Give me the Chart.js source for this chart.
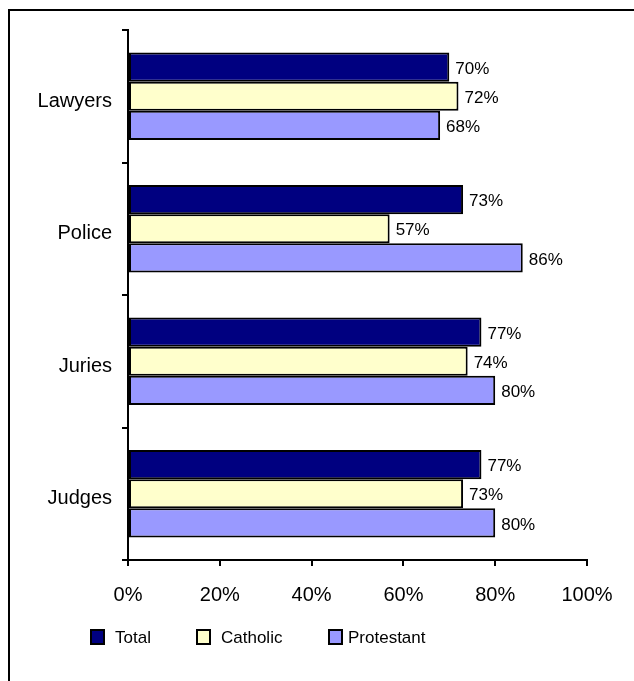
<!DOCTYPE html>
<html>
<head>
<meta charset="utf-8">
<script src="https://cdn.jsdelivr.net/npm/chart.js@4"></script>
<style>
  body { margin: 0; background: #fff; }
  #wrap { width: 634px; height: 681px; }
</style>
</head>
<body>
<div id="wrap"><canvas id="myChart" width="634" height="681"></canvas></div>
<script>
// categories and series
const categories = ['Lawyers', 'Police', 'Juries', 'Judges'];
const seriesNames = ['Total', 'Catholic', 'Protestant'];
const totalVals = [70, 73, 77, 77];
const catholicVals = [72, 57, 74, 73];
const protestantVals = [68, 86, 80, 80];
const xTicks = [0, 20, 40, 60, 80, 100];
const colors = ['#000080', '#FFFFCC', '#9999FF'];

const FONT = "'Liberation Sans', Arial, sans-serif";

// outer frame (cut off at right and bottom like the original)
const framePlugin = {
    id: 'frame',
    beforeDraw(chart) {
        const ctx = chart.ctx;
        ctx.save();
        ctx.fillStyle = '#fff';
        ctx.fillRect(0, 0, chart.width, chart.height);
        ctx.strokeStyle = '#000';
        ctx.lineWidth = 2;
        ctx.beginPath();
        ctx.moveTo(9, chart.height);
        ctx.lineTo(9, 10);
        ctx.lineTo(chart.width, 10);
        ctx.stroke();
        ctx.restore();
    }
};

// value labels at the end of every bar
const labelPlugin = {
    id: 'barLabels',
    afterDatasetsDraw(chart) {
        const ctx = chart.ctx;
        ctx.save();
        ctx.font = '17px ' + FONT;
        ctx.fillStyle = '#000';
        ctx.textAlign = 'left';
        ctx.textBaseline = 'middle';
        chart.data.datasets.forEach((ds, i) => {
            chart.getDatasetMeta(i).data.forEach((bar, j) => {
                ctx.fillText(ds.data[j] + '%', bar.x + 6, bar.y + 2);
            });
        });
        ctx.restore();
    }
};

// legend drawn by hand to get the spacing of the original
const legendPlugin = {
    id: 'legendRow',
    afterDraw(chart) {
        const ctx = chart.ctx;
        const boxX = [91, 197, 329];
        const textX = [115, 221, 348];
        ctx.save();
        ctx.font = '17px ' + FONT;
        ctx.textBaseline = 'middle';
        ctx.textAlign = 'left';
        chart.data.datasets.forEach((ds, i) => {
            ctx.fillStyle = ds.backgroundColor;
            ctx.fillRect(boxX[i], 630, 13, 14);
            ctx.strokeStyle = '#000';
            ctx.lineWidth = 2;
            ctx.strokeRect(boxX[i], 630, 13, 14);
            ctx.fillStyle = '#000';
            ctx.fillText(ds.label, textX[i], 638);
        });
        ctx.restore();
    }
};

const chartData = {
    labels: categories,
    datasets: [
        { label: seriesNames[0], data: totalVals, backgroundColor: colors[0] },
        { label: seriesNames[1], data: catholicVals, backgroundColor: colors[1] },
        { label: seriesNames[2], data: protestantVals, backgroundColor: colors[2] }
    ].map(ds => Object.assign(ds, {
        borderColor: '#000',
        borderWidth: 2,
        borderSkipped: false,
        categoryPercentage: 0.66,
        barPercentage: 1.0
    }))
};

const config = {
    type: 'bar',
    data: chartData,
    options: {
        indexAxis: 'y',
        responsive: false,
        animation: false,
        layout: { padding: { left: 0, top: 30, right: 47, bottom: 0 } },
        plugins: {
            legend: { display: false },
            tooltip: { enabled: false }
        },
        scales: {
            x: {
                min: 0,
                max: 100,
                afterBuildTicks: scale => { scale.ticks = xTicks.map(v => ({ value: v })); },
                afterFit: scale => { scale.height = 121; },
                border: { display: true, color: '#000', width: 2 },
                grid: { display: true, drawOnChartArea: false, color: '#000', lineWidth: 2, tickLength: 6 },
                ticks: {
                    color: '#000',
                    padding: 17,
                    font: { family: FONT, size: 20 },
                    callback: v => v + '%',
                    maxRotation: 0
                }
            },
            y: {
                afterFit: scale => { scale.width = 128; },
                border: { display: true, color: '#000', width: 2 },
                grid: { display: true, offset: true, drawOnChartArea: false, color: '#000', lineWidth: 2, tickLength: 6 },
                ticks: {
                    color: '#000',
                    padding: 10,
                    labelOffset: 5,
                    font: { family: FONT, size: 20 }
                }
            }
        }
    },
    plugins: [framePlugin, labelPlugin, legendPlugin]
};

const myChart = new Chart(document.getElementById('myChart'), config);
</script>
</body>
</html>
